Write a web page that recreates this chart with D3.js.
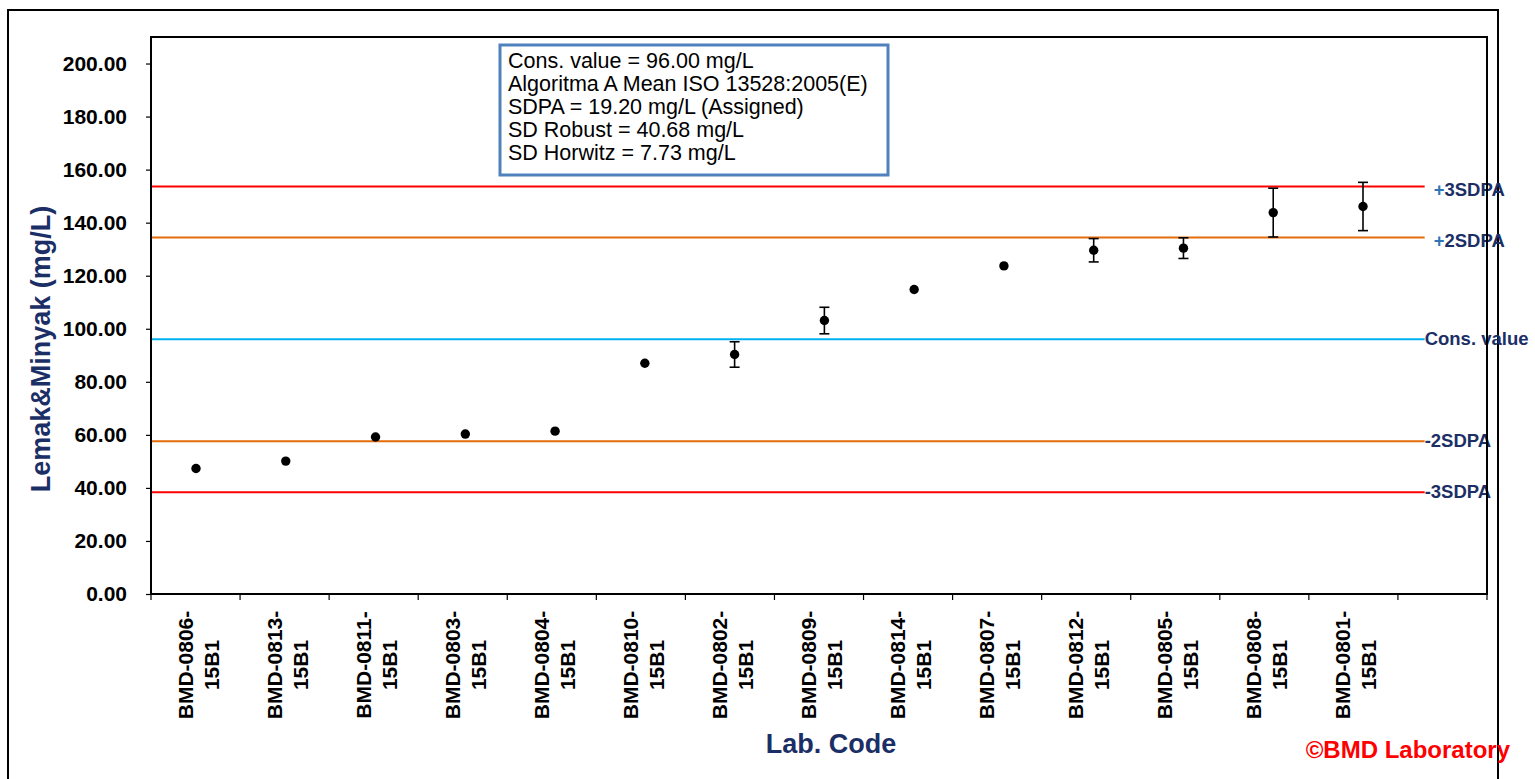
<!DOCTYPE html>
<meta charset="utf-8">
<style>
body { margin: 0; background: #fff; }
text { font-family: "Liberation Sans", Arial, sans-serif; }
.axis path { display: none; }
.axis line { stroke: #000; stroke-width: 1.2px; }
.axis text { font-size: 21px; font-weight: bold; fill: #000; }
</style>
<svg width="1535" height="779"></svg>
<script src="https://cdnjs.cloudflare.com/ajax/libs/d3/7.8.5/d3.min.js"></script>
<script>

// lab codes (last slot is the empty category Excel leaves at the end)
var labCodes = ["BMD-0806-15B1", "BMD-0813-15B1", "BMD-0811-15B1", "BMD-0803-15B1", "BMD-0804-15B1",
                "BMD-0810-15B1", "BMD-0802-15B1", "BMD-0809-15B1", "BMD-0814-15B1", "BMD-0807-15B1",
                "BMD-0812-15B1", "BMD-0805-15B1", "BMD-0808-15B1", "BMD-0801-15B1", ""];
var results = [47.3, 50.1, 59.2, 60.3, 61.4, 87.0, 90.3, 103.1, 114.8, 123.7, 129.6, 130.4, 143.8, 146.1];
var errors  = [0, 0, 0, 0, 0, 0, 4.8, 5.0, 0, 0, 4.4, 3.9, 9.2, 9.1];

var consValue = 96.0,
    sdpa = 19.2;
var limitNames = ["+3SDPA", "+2SDPA", "Cons. value", "-2SDPA", "-3SDPA"];
var limitMult  = [3, 2, 0, -2, -3];
var limitColors = ["#ff0000", "#e46c0a", "#00b0f0", "#e46c0a", "#ff0000"];

var yTicks = [0, 20, 40, 60, 80, 100, 120, 140, 160, 180, 200];

var infoLines = ["Cons. value = 96.00 mg/L",
                 "Algoritma A Mean ISO 13528:2005(E)",
                 "SDPA = 19.20 mg/L (Assigned)",
                 "SD Robust = 40.68 mg/L",
                 "SD Horwitz = 7.73 mg/L"];

var navy = "#1b2f66";

var svg = d3.select("svg"),
    margin = {top: 37, right: 48, bottom: 185, left: 151},
    width = +svg.attr("width") - margin.left - margin.right,
    height = +svg.attr("height") - margin.top - margin.bottom;

// outer chart frame
svg.append("rect")
    .attr("x", 8).attr("y", 10)
    .attr("width", 1490).attr("height", 800)
    .attr("fill", "none").attr("stroke", "#000").attr("stroke-width", 2);

var x = d3.scaleBand().domain(d3.range(labCodes.length)).range([0, width]).padding(0),
    y = d3.scaleLinear().domain([0, 210]).range([height, 0]);

// the markers sit on their own, slightly wider, spacing
var xp = d3.scalePoint().domain(d3.range(results.length)).range([45, 1212]);

var g = svg.append("g")
    .attr("transform", "translate(" + margin.left + "," + margin.top + ")");

var cx = function(i) { return x(i) + x.bandwidth() / 2; };

// y axis
g.append("g")
    .attr("class", "axis axis--y")
    .call(d3.axisLeft(y).tickValues(yTicks).tickSize(5).tickPadding(19)
      .tickFormat(function(d) { return d.toFixed(2); }));

// x axis ticks at category boundaries
g.append("g")
    .attr("class", "axis axis--x")
    .selectAll("line")
    .data(d3.range(labCodes.length + 1))
    .enter().append("line")
      .attr("x1", function(i) { return i * x.bandwidth(); })
      .attr("x2", function(i) { return i * x.bandwidth(); })
      .attr("y1", height).attr("y2", height + 6);

// x labels, two rotated lines each
var xl = g.selectAll(".xlab")
    .data(labCodes.slice(0, results.length))
    .enter().append("text")
      .attr("class", "xlab")
      .attr("transform", function(d, i) { return "translate(" + cx(i) + "," + (height + 71) + ") rotate(-90)"; })
      .attr("text-anchor", "middle")
      .style("font-size", "21px").style("font-weight", "bold");
xl.append("tspan").attr("x", 0).attr("y", -3)
    .text(function(d) { return d.slice(0, 9); });
xl.append("tspan").attr("x", 0).attr("y", 23)
    .text(function(d) { return d.slice(9); });

// zero series along the bottom
g.append("line")
    .attr("x1", cx(0)).attr("x2", cx(results.length - 1))
    .attr("y1", y(0)).attr("y2", y(0))
    .attr("stroke", "#5c1060").attr("stroke-width", 2);

// reference lines
var refEnd = x(results.length) + x.bandwidth() * 0.3;
var limits = limitMult.map(function(m, i) {
  return {name: limitNames[i], value: consValue + m * sdpa, color: limitColors[i]};
});

g.selectAll(".ref")
  .data(limits)
  .enter().append("line")
    .attr("class", "ref")
    .attr("x1", 0).attr("x2", refEnd)
    .attr("y1", function(d) { return y(d.value); })
    .attr("y2", function(d) { return y(d.value); })
    .attr("stroke", function(d) { return d.color; })
    .attr("stroke-width", 2);

var plus = function(d) { return d.name[0] === "+"; };
var rl = g.selectAll(".reflab")
  .data(limits)
  .enter().append("text")
    .attr("class", "reflab")
    .attr("x", function(d) { return refEnd + (plus(d) ? 9 : 0); })
    .attr("y", function(d) { return y(d.value) + (plus(d) ? 3 : -1); })
    .attr("dy", "0.36em")
    .style("font-size", "18.5px").style("font-weight", "bold")
    .attr("fill", navy);
rl.append("tspan")
    .attr("fill", function(d) { return plus(d) ? "#2e75b6" : navy; })
    .text(function(d) { return plus(d) ? "+" : ""; });
rl.append("tspan")
    .text(function(d) { return plus(d) ? d.name.slice(1) : d.name; });

// plot area border
g.append("rect")
    .attr("width", width).attr("height", height)
    .attr("fill", "none").attr("stroke", "#000").attr("stroke-width", 2);

// error bars
var eb = g.selectAll(".err")
  .data(results.map(function(v, i) { return {i: i, v: v, e: errors[i]}; })
    .filter(function(d) { return d.e > 0; }))
  .enter().append("g")
    .attr("class", "err")
    .attr("stroke", "#000").attr("stroke-width", 1.6);
eb.append("line")
    .attr("x1", function(d) { return xp(d.i); }).attr("x2", function(d) { return xp(d.i); })
    .attr("y1", function(d) { return y(d.v + d.e); }).attr("y2", function(d) { return y(d.v - d.e); });
eb.selectAll(".cap")
  .data(function(d) { return [{i: d.i, v: d.v + d.e}, {i: d.i, v: d.v - d.e}]; })
  .enter().append("line")
    .attr("x1", function(d) { return xp(d.i) - 5; }).attr("x2", function(d) { return xp(d.i) + 5; })
    .attr("y1", function(d) { return y(d.v); }).attr("y2", function(d) { return y(d.v); });

// points
g.selectAll(".dot")
  .data(results)
  .enter().append("circle")
    .attr("class", "dot")
    .attr("cx", function(d, i) { return xp(i); })
    .attr("cy", function(d) { return y(d); })
    .attr("r", 4.7)
    .attr("fill", "#000");

// info box
svg.append("rect")
    .attr("x", 500).attr("y", 45).attr("width", 388).attr("height", 130)
    .attr("fill", "#fff").attr("stroke", "#4f81bd").attr("stroke-width", 3);
svg.selectAll(".info")
  .data(infoLines)
  .enter().append("text")
    .attr("class", "info")
    .attr("x", 508)
    .attr("y", function(d, i) { return 68 + i * 23; })
    .style("font-size", "21.5px")
    .attr("fill", "#000")
    .text(function(d) { return d; });

// axis titles
svg.append("text")
    .attr("transform", "translate(50,349) rotate(-90)")
    .attr("text-anchor", "middle")
    .style("font-size", "27px").style("font-weight", "bold")
    .attr("fill", navy)
    .text("Lemak&Minyak (mg/L)");

svg.append("text")
    .attr("x", 831).attr("y", 753)
    .attr("text-anchor", "middle")
    .style("font-size", "27px").style("font-weight", "bold")
    .attr("fill", navy)
    .text("Lab. Code");

svg.append("text")
    .attr("x", 1510).attr("y", 758)
    .attr("text-anchor", "end")
    .style("font-size", "24px").style("font-weight", "bold")
    .attr("fill", "#ff0000")
    .text("\u00a9BMD Laboratory");

</script>
